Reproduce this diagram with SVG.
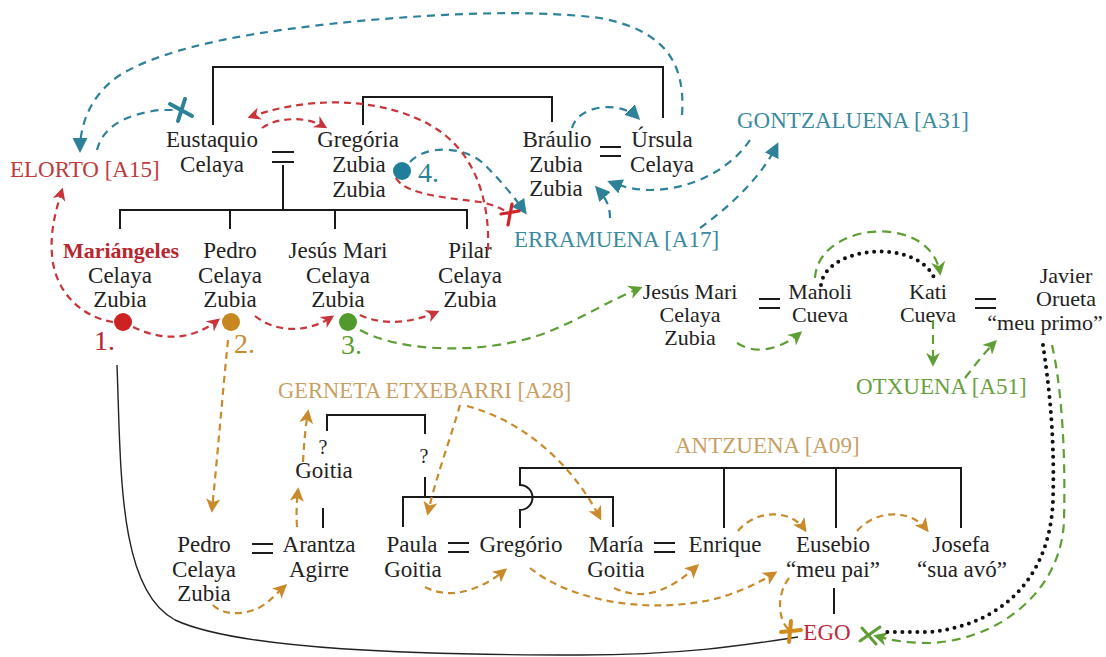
<svg xmlns="http://www.w3.org/2000/svg" width="1106" height="657" viewBox="0 0 1106 657">
<defs>
<style>
text{font-family:"Liberation Serif","Times New Roman",serif;font-size:23px;fill:#222}
.p{text-anchor:middle}
.s{font-size:22px}
.num{font-size:28px}
.ln{stroke:#1a1a1a;stroke-width:2;fill:none}
.eq{stroke:#1a1a1a;stroke-width:2.2}
.r{stroke:#c8353a;fill:none;stroke-width:2.2;stroke-dasharray:7 5}
.b{stroke:#2d8299;fill:none;stroke-width:2.2;stroke-dasharray:8 6}
.o{stroke:#c98a2c;fill:none;stroke-width:2.2;stroke-dasharray:7 5}
.g{stroke:#5f9e34;fill:none;stroke-width:2.2;stroke-dasharray:9 6}
.k{stroke:#111;fill:none;stroke-width:4;stroke-dasharray:0 7.5;stroke-linecap:round}
.thin{stroke:#222;fill:none;stroke-width:1.4}
.xr{stroke:#d2232a;stroke-width:3.2;stroke-linecap:round}
.xb{stroke:#2d8299;stroke-width:4;stroke-linecap:round}
.xo{stroke:#d08a1e;stroke-width:4;stroke-linecap:round}
.xg{stroke:#5f9e34;stroke-width:3;stroke-linecap:round}
</style>
<marker id="mr" viewBox="0 0 10 10" refX="8" refY="5" markerWidth="13" markerHeight="13" markerUnits="userSpaceOnUse" orient="auto"><path d="M0,0 L10,5 L0,10 L3,5 z" fill="#c8353a"/></marker>
<marker id="mb" viewBox="0 0 10 10" refX="8" refY="5" markerWidth="15" markerHeight="15" markerUnits="userSpaceOnUse" orient="auto"><path d="M0,0 L10,5 L0,10 z" fill="#2d8299"/></marker>
<marker id="mo" viewBox="0 0 10 10" refX="8" refY="5" markerWidth="14" markerHeight="14" markerUnits="userSpaceOnUse" orient="auto"><path d="M0,0 L10,5 L0,10 L2.5,5 z" fill="#c98a2c"/></marker>
<marker id="mg" viewBox="0 0 10 10" refX="8" refY="5" markerWidth="14" markerHeight="14" markerUnits="userSpaceOnUse" orient="auto"><path d="M0,0 L10,5 L0,10 L3,5 z" fill="#5f9e34"/></marker>
</defs>
<rect width="1106" height="657" fill="#fff"/>

<!-- kinship lines -->
<g id="kinship">
<path class="ln" d="M213 125 V67 H663 V118"/>
<path class="ln" d="M363 125 V97 H552 V122"/>
<path class="eq" d="M272 152 H294 M272 162 H294"/>
<path class="ln" d="M283 165 V210"/>
<path class="ln" d="M120 229 V210 H467 V229 M230 210 V229 M335 210 V229"/>
<path class="eq" d="M600 147 H621 M600 156 H621"/>
<path class="eq" d="M759 299 H780 M759 308 H780"/>
<path class="eq" d="M975 299 H996 M975 308 H996"/>
<path class="ln" d="M327 431 V415 H425 V434"/>
<path class="ln" d="M323 508 V528"/>
<path class="ln" d="M425 477 V497"/>
<path class="ln" d="M403 527 V497 H613 V527"/>
<path class="ln" d="M520 528 V510 A12.5 12.5 0 0 0 520 485 V468 H961 V528 M724 468 V528 M836 468 V528"/>
<path class="eq" d="M252 544 H273 M252 553 H273"/>
<path class="eq" d="M448 543 H469 M448 552 H469"/>
<path class="eq" d="M654 543 H675 M654 552 H675"/>
<path class="ln" d="M834 588 V614"/>
<path class="thin" d="M117 365 C 121 470, 118 590, 175 620 C 240 650, 420 655, 580 655 C 680 655, 740 646, 798 637"/>
</g>

<!-- nodes -->
<g id="n-elorto"><text x="10" y="177" style="fill:#c0393b">ELORTO [A15]</text></g>
<g id="n-eustaquio"><text class="p" x="212" y="147">Eustaquio</text><text class="p" x="212" y="172">Celaya</text></g>
<g id="n-gregoria"><text class="p" x="358" y="147">Gregória</text><text class="p" x="359" y="172">Zubia</text><text class="p" x="359" y="197">Zubia</text>
<circle cx="402" cy="171" r="9" fill="#1f7f9a"/><text class="num" x="418" y="182" style="fill:#2d8299">4.</text></g>
<g id="n-braulio"><text class="p" x="557" y="147">Bráulio</text><text class="p" x="556" y="172">Zubia</text><text class="p" x="556" y="196">Zubia</text></g>
<g id="n-ursula"><text class="p" x="662" y="147">Úrsula</text><text class="p" x="662" y="172">Celaya</text></g>
<g id="n-gontzaluena"><text x="737" y="128" style="fill:#3a8aa0">GONTZALUENA [A31]</text></g>
<g id="n-erramuena"><text x="514" y="247" style="fill:#3a8aa0">ERRAMUENA [A17]</text></g>

<g id="n-mariangeles"><text class="p" x="121" y="258" style="fill:#b8262e;font-weight:bold;font-size:22px">Mariángeles</text><text class="p" x="120" y="283">Celaya</text><text class="p" x="120" y="307">Zubia</text>
<circle cx="123" cy="322" r="9" fill="#cc2222"/><text class="num" x="94" y="350" style="fill:#b8262e">1.</text></g>
<g id="n-pedro"><text class="p" x="230" y="258">Pedro</text><text class="p" x="230" y="283">Celaya</text><text class="p" x="230" y="307">Zubia</text>
<circle cx="231" cy="322" r="9" fill="#c8861e"/><text class="num" x="234" y="353" style="fill:#c98a2c">2.</text></g>
<g id="n-jesusmari"><text class="p" x="338" y="258">Jesús Mari</text><text class="p" x="338" y="283">Celaya</text><text class="p" x="338" y="307">Zubia</text>
<circle cx="348" cy="322" r="9" fill="#4f9a2a"/><text class="num" x="341" y="354" style="fill:#5a9e2f">3.</text></g>
<g id="n-pilar"><text class="p" x="470" y="258">Pilar</text><text class="p" x="470" y="283">Celaya</text><text class="p" x="470" y="307">Zubia</text></g>

<g id="n-jesusmari2"><text class="p s" x="690" y="299">Jesús Mari</text><text class="p s" x="690" y="322">Celaya</text><text class="p s" x="690" y="345">Zubia</text></g>
<g id="n-manoli"><text class="p s" x="820" y="299">Manoli</text><text class="p s" x="820" y="322">Cueva</text></g>
<g id="n-kati"><text class="p s" x="928" y="299">Kati</text><text class="p s" x="928" y="322">Cueva</text></g>
<g id="n-javier"><text class="p s" x="1066" y="283">Javier</text><text class="p s" x="1066" y="306">Orueta</text><text class="p s" x="1045" y="330">“meu primo”</text></g>
<g id="n-otxuena"><text x="856" y="394" style="fill:#6aa040">OTXUENA [A51]</text></g>

<g id="n-gerneta"><text x="278" y="398" style="fill:#c9a064;font-size:22.5px">GERNETA ETXEBARRI [A28]</text></g>
<g id="n-goitia"><text class="p" x="323" y="454" style="font-size:20px">?</text><text class="p" x="324" y="478">Goitia</text></g>
<g id="n-q2"><text class="p" x="424" y="463" style="font-size:20px">?</text></g>
<g id="n-antzuena"><text x="675" y="453" style="fill:#c9a064">ANTZUENA [A09]</text></g>
<g id="n-pedro2"><text class="p" x="204" y="552">Pedro</text><text class="p" x="204" y="577">Celaya</text><text class="p" x="204" y="601">Zubia</text></g>
<g id="n-arantza"><text class="p" x="319" y="552">Arantza</text><text class="p" x="319" y="577">Agirre</text></g>
<g id="n-paula"><text class="p" x="412" y="552">Paula</text><text class="p" x="413" y="577">Goitia</text></g>
<g id="n-gregorio"><text class="p" x="521" y="552">Gregório</text></g>
<g id="n-maria"><text class="p" x="616" y="552">María</text><text class="p" x="616" y="577">Goitia</text></g>
<g id="n-enrique"><text class="p" x="725" y="552">Enrique</text></g>
<g id="n-eusebio"><text class="p" x="833" y="552">Eusebio</text><text class="p" x="833" y="577">“meu pai”</text></g>
<g id="n-josefa"><text class="p" x="961" y="552">Josefa</text><text class="p" x="962" y="577">“sua avó”</text></g>
<g id="n-ego"><text class="p" x="827" y="640" style="fill:#c0283a">EGO</text></g>

<!-- connectors -->
<g id="connectors">
<path class="b" d="M682 115 C 686 60, 662 30, 600 18 C 520 8, 420 16, 370 20 C 260 30, 170 45, 120 75 C 90 95, 80 125, 80 150" marker-end="url(#mb)"/>
<path class="b" d="M97 150 C 102 130, 120 115, 160 110 L 178 110"/>
<path class="xb" d="M170 104 L192 116 M185 99 L178 121"/>
<path class="b" d="M410 162 C 425 145, 465 145, 485 165 C 500 180, 515 198, 525 212" marker-end="url(#mb)"/>
<path class="b" d="M572 128 C 578 105, 620 100, 638 118" marker-end="url(#mb)"/>
<path class="b" d="M610 218 C 610 205, 605 197, 597 188" marker-end="url(#mb)"/>
<path class="b" d="M750 140 C 730 170, 690 190, 650 190 C 635 190, 620 186, 610 182" marker-end="url(#mb)"/>
<path class="b" d="M700 228 C 725 210, 760 180, 777 145" marker-end="url(#mb)"/>
<path class="r" d="M262 128 C 275 118, 305 115, 325 127" marker-end="url(#mr)"/>
<path class="r" d="M488 250 C 490 200, 475 150, 430 125 C 390 102, 320 92, 250 117" marker-end="url(#mr)"/>
<path class="r" d="M396 178 C 405 195, 450 198, 480 202 C 495 205, 505 210, 509 214"/>
<path class="xr" d="M501 214 L519 211 M512 204 L508 225"/>
<path class="r" d="M113 322 C 85 318, 55 295, 52 255 C 50 230, 56 210, 62 190" marker-end="url(#mr)"/>
<path class="r" d="M133 327 C 160 340, 190 342, 218 320" marker-end="url(#mr)"/>
<path class="r" d="M255 316 C 275 332, 305 334, 332 317" marker-end="url(#mr)"/>
<path class="r" d="M360 315 C 380 325, 410 324, 437 312" marker-end="url(#mr)"/>
<path class="g" d="M360 330 C 400 352, 480 355, 540 335 C 580 320, 610 300, 640 288" marker-end="url(#mg)"/>
<path class="g" d="M737 343 C 755 355, 780 350, 800 333" marker-end="url(#mg)"/>
<path class="g" d="M815 278 C 818 222, 930 212, 940 273" marker-end="url(#mg)"/>
<path class="g" d="M933 320 L933 364" marker-end="url(#mg)"/>
<path class="g" d="M965 378 C 975 365, 985 352, 995 342" marker-end="url(#mg)"/>
<path class="g" d="M1052 345 C 1060 380, 1066 440, 1064 520 C 1062 590, 1000 640, 930 643 C 905 643, 890 640, 876 636" marker-end="url(#mg)"/>
<path class="xg" d="M862 628 L876 644 M860 641 L880 627"/>
<path class="k" d="M821 285 C 826 245, 920 238, 935 280"/>
<path class="k" d="M1043 345 C 1048 380, 1055 430, 1053 500 C 1050 580, 1000 625, 930 632 L 882 632"/>
<path class="o" d="M228 340 C 222 400, 218 450, 212 510" marker-end="url(#mo)"/>
<path class="o" d="M213 605 C 225 618, 255 615, 270 600 L 285 586" marker-end="url(#mo)"/>
<path class="o" d="M297 527 C 296 510, 297 500, 298 490" marker-end="url(#mo)"/>
<path class="o" d="M303 462 C 304 445, 305 430, 308 412" marker-end="url(#mo)"/>
<path class="o" d="M460 405 C 450 440, 435 480, 428 513" marker-end="url(#mo)"/>
<path class="o" d="M467 406 C 520 420, 570 460, 600 518" marker-end="url(#mo)"/>
<path class="o" d="M425 587 C 445 598, 475 595, 505 570" marker-end="url(#mo)"/>
<path class="o" d="M530 568 C 570 600, 640 612, 700 602 C 730 597, 755 585, 775 573" marker-end="url(#mo)"/>
<path class="o" d="M614 588 C 640 600, 665 595, 697 566" marker-end="url(#mo)"/>
<path class="o" d="M738 531 C 755 510, 790 508, 805 530" marker-end="url(#mo)"/>
<path class="o" d="M857 531 C 875 510, 910 508, 927 530" marker-end="url(#mo)"/>
<path class="o" d="M789 578 C 776 595, 778 620, 789 630"/>
<path class="xo" d="M781 632 L801 630 M791 621 L789 642"/>
</g>
</svg>
